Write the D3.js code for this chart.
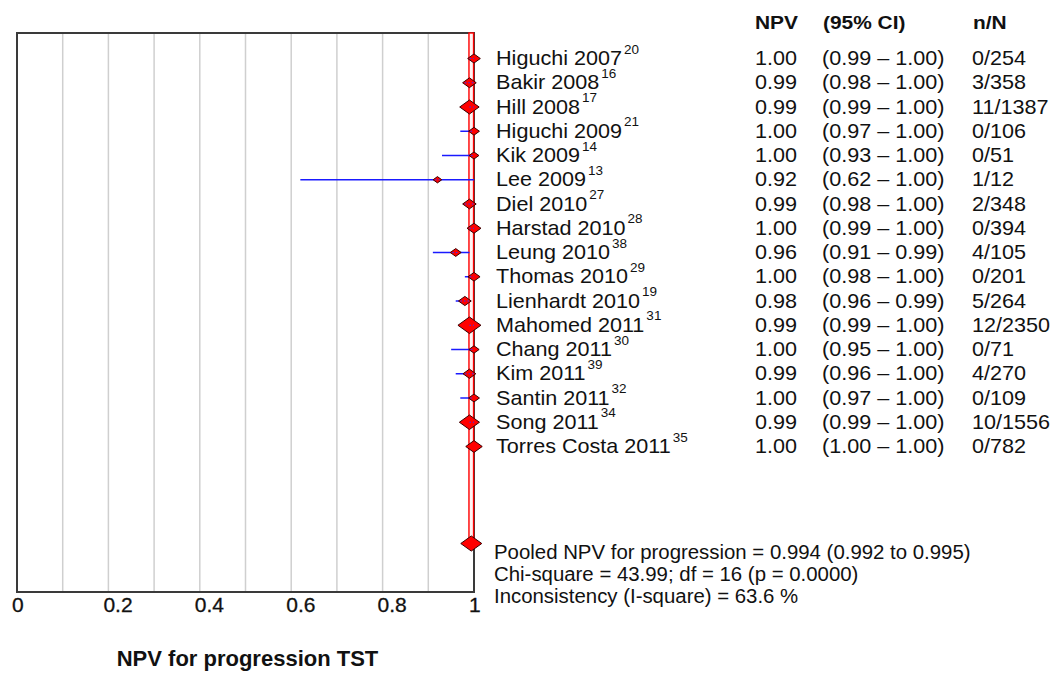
<!DOCTYPE html>
<html>
<head>
<meta charset="utf-8">
<script src="https://cdn.jsdelivr.net/npm/d3@7"></script>
<style>
  body { margin: 0; background: #fff; }
  text { font-family: "Liberation Sans", Arial, sans-serif; fill: #111; }
</style>
</head>
<body>
<div id="chart"></div>
<script>
// study data
var studies = ["Higuchi 2007", "Bakir 2008", "Hill 2008", "Higuchi 2009", "Kik 2009", "Lee 2009",
  "Diel 2010", "Harstad 2010", "Leung 2010", "Thomas 2010", "Lienhardt 2010", "Mahomed 2011",
  "Chang 2011", "Kim 2011", "Santin 2011", "Song 2011", "Torres Costa 2011"];
var refs = ["20", "16", "17", "21", "14", "13", "27", "28", "38", "29", "19", "31", "30", "39", "32", "34", "35"];
var npv = [1.00, 0.99, 0.99, 1.00, 1.00, 0.92, 0.99, 1.00, 0.96, 1.00, 0.98, 0.99, 1.00, 0.99, 1.00, 0.99, 1.00];
var ciLow = [0.99, 0.98, 0.99, 0.97, 0.93, 0.62, 0.98, 0.99, 0.91, 0.98, 0.96, 0.99, 0.95, 0.96, 0.97, 0.99, 1.00];
var ciHigh = [1.00, 1.00, 1.00, 1.00, 1.00, 1.00, 1.00, 1.00, 0.99, 1.00, 0.99, 1.00, 1.00, 1.00, 1.00, 1.00, 1.00];
var events = [0, 3, 11, 0, 0, 1, 2, 0, 4, 0, 5, 12, 0, 4, 0, 10, 0];
var totals = [254, 358, 1387, 106, 51, 12, 348, 394, 105, 201, 264, 2350, 71, 270, 109, 1556, 782];

var pooled = { est: 0.994, low: 0.992, high: 0.995 };
var statLines = ["Pooled NPV for progression = 0.994 (0.992 to 0.995)",
  "Chi-square = 43.99; df = 16 (p = 0.0000)",
  "Inconsistency (I-square) = 63.6 %"];
var xTicks = [0, 0.2, 0.4, 0.6, 0.8, 1];
var gridValues = [0.1, 0.2, 0.3, 0.4, 0.5, 0.6, 0.7, 0.8, 0.9];

var svgWidth = 1056, svgHeight = 673;
var plotLeft = 17, plotRight = 474, plotTop = 33, plotBottom = 592;

var svg = d3.select("#chart").append("svg")
  .attr("width", svgWidth)
  .attr("height", svgHeight);

var x = d3.scaleLinear().domain([0, 1]).range([plotLeft, plotRight]);
// row index -> y (pooled sits at row 20)
var y = d3.scaleLinear().domain([0, 20]).range([58.5, 543.5]);
var size = d3.scaleSqrt().domain([0, d3.max(totals)]).range([3.8, 11.5]);

var rows = studies.map(function(s, i) {
  return { name: s, ref: refs[i], est: npv[i], lo: ciLow[i], hi: ciHigh[i], n: events[i], N: totals[i], i: i };
});

// stretched text helper (source picture is slightly widened)
function putText(g, tx, ty, str, fs, sx, weight) {
  return g.append("text")
    .attr("transform", "translate(" + tx + "," + ty + ") scale(" + sx + ",1)")
    .attr("font-size", fs + "px")
    .attr("font-weight", weight || "normal")
    .text(str);
}

// grid
svg.append("g").selectAll("line")
  .data(gridValues)
  .enter().append("line")
  .attr("x1", d => x(d)).attr("x2", d => x(d))
  .attr("y1", plotTop).attr("y2", plotBottom)
  .attr("stroke", "#cfcfcf")
  .attr("stroke-width", 1.5);

// frame
svg.append("rect")
  .attr("x", plotLeft).attr("y", plotTop)
  .attr("width", plotRight - plotLeft).attr("height", plotBottom - plotTop)
  .attr("fill", "none")
  .attr("stroke", "#3a3a3a")
  .attr("stroke-width", 2);

// x axis labels
var xAxis = d3.axisBottom(x).tickValues(xTicks).tickSize(0).tickFormat(d3.format("~g"));
var axisG = svg.append("g")
  .attr("transform", "translate(0," + plotBottom + ")")
  .call(xAxis);
axisG.select(".domain").remove();
axisG.selectAll("text")
  .attr("text-anchor", "start")
  .attr("x", -5.5)
  .attr("y", 19.5)
  .attr("dy", 0)
  .attr("font-size", "21px")
  .attr("font-family", "Liberation Sans, Arial, sans-serif")
  .attr("fill", "#111")
  .attr("stroke", "#111")
  .attr("stroke-width", 0.3);

// pooled band
svg.append("rect")
  .attr("x", x(pooled.est) - 2.3)
  .attr("y", plotTop)
  .attr("width", 4.6)
  .attr("height", y(20) - plotTop)
  .attr("fill", "#fff4f4")
  .attr("stroke", "#ff0000")
  .attr("stroke-width", 1.4);

// CI lines
svg.append("g").selectAll("line")
  .data(rows)
  .enter().append("line")
  .attr("x1", d => x(d.lo)).attr("x2", d => x(d.hi))
  .attr("y1", d => y(d.i)).attr("y2", d => y(d.i))
  .attr("stroke", "#1a1aff")
  .attr("stroke-width", 1.5);

function diamond(cx, cy, r) {
  var h = r * 0.72;
  return "M" + (cx - r) + "," + cy + "L" + cx + "," + (cy - h) + "L" + (cx + r) + "," + cy + "L" + cx + "," + (cy + h) + "Z";
}

// study markers
svg.append("g").selectAll("path")
  .data(rows)
  .enter().append("path")
  .attr("d", d => diamond(x(d.est), y(d.i), size(d.N)))
  .attr("fill", "#ff0000")
  .attr("stroke", "#3a0000")
  .attr("stroke-width", 1);

// blue dotted CI showing through markers
svg.append("g").selectAll("line")
  .data(rows)
  .enter().append("line")
  .attr("x1", d => Math.max(x(d.lo), x(d.est) - size(d.N) + 2))
  .attr("x2", d => Math.min(x(d.hi), x(d.est) + size(d.N) - 2))
  .attr("y1", d => y(d.i)).attr("y2", d => y(d.i))
  .attr("stroke", "#3030ff")
  .attr("stroke-width", 1)
  .attr("stroke-dasharray", "1.5,2");

// pooled diamond
svg.append("path")
  .attr("d", diamond(x(pooled.est), y(20), 10.5))
  .attr("fill", "#ff0000")
  .attr("stroke", "#3a0000")
  .attr("stroke-width", 1);

// header
var head = svg.append("g");
putText(head, 755, 28.5, "NPV", 19, 1.1, "bold");
putText(head, 823, 28.5, "(95% CI)", 19, 1.1, "bold");
putText(head, 973, 28.5, "n/N", 19, 1.1, "bold");

// study labels and columns
var cols = svg.append("g");
rows.forEach(function(d) {
  var by = y(d.i) + 6.5;
  var lab = putText(cols, 496, by, d.name, 20, 1.08);
  var w = lab.node().getComputedTextLength() * 1.08;
  putText(cols, 496 + w + 2, by - 11.5, d.ref, 12.5, 1.08);
  putText(cols, 755, by, d3.format(".2f")(d.est), 20, 1.08);
  putText(cols, 822, by, "(" + d3.format(".2f")(d.lo) + " \u2013 " + d3.format(".2f")(d.hi) + ")", 20, 1.08);
  putText(cols, 972, by, d.n + "/" + d.N, 20, 1.08);
});

// pooled statistics
statLines.forEach(function(s, k) {
  putText(cols, 494, y(20) + 15 + k * 22.2, s, 20, 1.02);
});

// axis title
svg.append("text")
  .attr("x", (plotLeft + plotRight) / 2 + 2)
  .attr("y", 666)
  .attr("text-anchor", "middle")
  .attr("font-size", "22px")
  .attr("font-weight", "bold")
  .text("NPV for progression TST");
</script>
</body>
</html>
